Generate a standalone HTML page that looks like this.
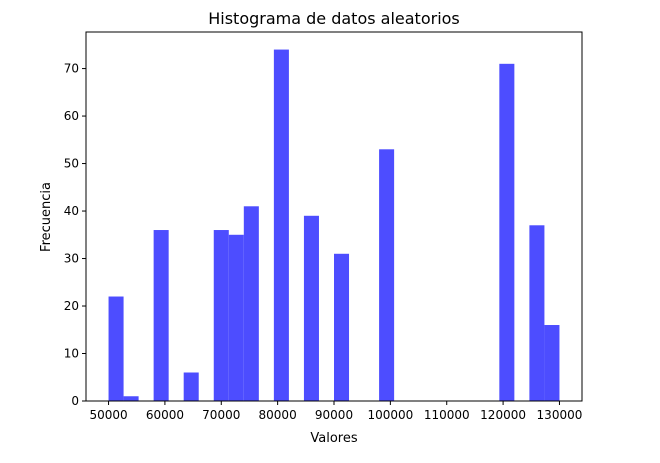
<!DOCTYPE html>
<html><head><meta charset="utf-8"><style>
body{margin:0;background:#fff;}
svg text{font-family:"DejaVu Sans","Liberation Sans",sans-serif;}
</style></head><body>
<svg width="660" height="458">
<rect width="660" height="458" fill="#fff"/>
<g id="plot"></g>
<text x="334" y="24" text-anchor="middle" font-size="16">Histograma de datos aleatorios</text>
<text x="334" y="442" text-anchor="middle" font-size="13">Valores</text>
<text transform="translate(50,217) rotate(-90)" text-anchor="middle" font-size="13">Frecuencia</text>
</svg>
<script>
const binStart = 50000;
const binWidth = 80000/30;
const counts = [22,1,0,36,0,6,0,36,35,41,0,74,0,39,0,31,0,0,53,0,0,0,0,0,0,0,71,0,37,16];
const xTicks = [50000,60000,70000,80000,90000,100000,110000,120000,130000];
const yTicks = [0,10,20,30,40,50,60,70];

const L=86,R=582,T=32,B=401;
const xmin=46000,xmax=134000,ymax=77.7;
const sx=v=>L+(v-xmin)/(xmax-xmin)*(R-L);
const sy=v=>B-v/ymax*(B-T);
const g=document.getElementById('plot');
const NS='http://www.w3.org/2000/svg';
function mk(t,a){const e=document.createElementNS(NS,t);for(const k in a)e.setAttribute(k,a[k]);g.appendChild(e);return e;}
counts.forEach((c,i)=>{
  if(!c)return;
  const x0=sx(binStart+i*binWidth),x1=sx(binStart+(i+1)*binWidth);
  const r=mk('rect',{x:x0,y:sy(c),width:x1-x0,height:B-sy(c),fill:'#4d4dff'});
  
  
});
const fr=mk('rect',{x:L,y:T,width:R-L,height:B-T,fill:'none',stroke:'#000','stroke-width':1});


xTicks.forEach(v=>{
  const x=sx(v);
  mk('line',{x1:x,x2:x,y1:B,y2:B+4,stroke:'#000'});
  const t=mk('text',{x:x,y:B+18,'text-anchor':'middle','font-size':12});
  t.textContent=v;
  
  
});
yTicks.forEach(v=>{
  const y=sy(v);
  mk('line',{x1:L-4,x2:L,y1:y,y2:y,stroke:'#000'});
  const t=mk('text',{x:L-7,y:y+4,'text-anchor':'end','font-size':12});
  t.textContent=v;
  
  
});
</script>
</body></html>
